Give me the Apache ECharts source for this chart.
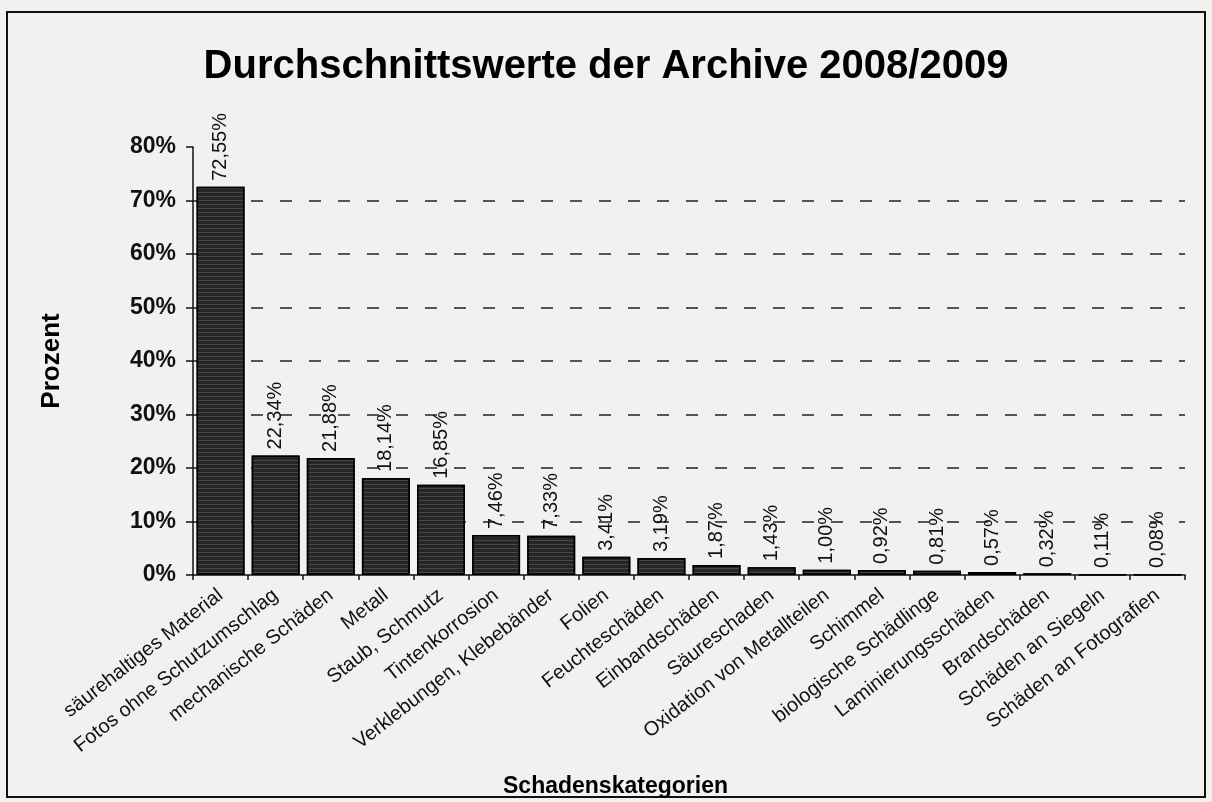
<!DOCTYPE html>
<html>
<head>
<meta charset="utf-8">
<title>Durchschnittswerte der Archive 2008/2009</title>
<script src="https://cdn.jsdelivr.net/npm/echarts@6/dist/echarts.min.js"></script>
<style>
  html, body { margin: 0; padding: 0; background: #f1f1ef; }
  #chart { width: 1212px; height: 802px; }
</style>
</head>
<body>
<div id="chart"></div>
<script>
// Schadenskategorien
const categories = [
  'säurehaltiges Material', 'Fotos ohne Schutzumschlag', 'mechanische Schäden',
  'Metall', 'Staub, Schmutz', 'Tintenkorrosion', 'Verklebungen, Klebebänder',
  'Folien', 'Feuchteschäden', 'Einbandschäden', 'Säureschaden',
  'Oxidation von Metallteilen', 'Schimmel', 'biologische Schädlinge',
  'Laminierungsschäden', 'Brandschäden', 'Schäden an Siegeln', 'Schäden an Fotografien'
]
// Prozent
const values = [72.55, 22.34, 21.88, 18.14, 16.85, 7.46, 7.33, 3.41, 3.19,
  1.87, 1.43, 1.00, 0.92, 0.81, 0.57, 0.32, 0.11, 0.08]
const yTicks = { min: 0, max: 80, interval: 10 }

const font = '"Liberation Sans", Arial, sans-serif'
const myChart = echarts.init(document.getElementById('chart'))

const chartOption = {
  backgroundColor: '#f1f1ef',
  animation: false,
  title: [
    {
      text: 'Durchschnittswerte der Archive 2008/2009',
      left: 'center',
      top: 42,
      textStyle: { fontFamily: font, fontSize: 40, fontWeight: 'bold', color: '#000' }
    },
    {
      // x-axis title sits left of the plot centre in the original
      text: 'Schadenskategorien',
      left: 498,
      top: 770,
      textStyle: { fontFamily: font, fontSize: 23, fontWeight: 'bold', color: '#000' }
    }
  ],
  graphic: [
    {
      type: 'rect',
      shape: { x: 7, y: 12, width: 1198, height: 785 },
      style: { fill: 'none', stroke: '#111', lineWidth: 2 },
      silent: true
    }
  ],
  grid: {
    left: 193,
    right: 27,
    top: 147,
    bottom: 227
  },
  xAxis: {
    type: 'category',
    data: categories,
    axisLine: { lineStyle: { color: '#111', width: 1.5 } },
    axisTick: { show: true, length: 5, lineStyle: { color: '#111', width: 1.5 } },
    axisLabel: {
      interval: 0,
      rotate: 38,
      margin: 18,
      fontFamily: font,
      fontSize: 20,
      color: '#111'
    }
  },
  yAxis: {
    type: 'value',
    min: yTicks.min,
    max: yTicks.max,
    interval: yTicks.interval,
    name: 'Prozent',
    nameLocation: 'middle',
    nameGap: 128,
    nameRotate: 90,
    nameTextStyle: { fontFamily: font, fontSize: 26, fontWeight: 'bold', color: '#000' },
    axisLine: { show: true, lineStyle: { color: '#111', width: 1.5 } },
    axisTick: { show: true, length: 7, lineStyle: { color: '#111', width: 1.5 } },
    axisLabel: {
      formatter: '{value}%',
      margin: 17,
      fontFamily: font,
      fontSize: 23,
      fontWeight: 'bold',
      color: '#111'
    },
    // no dashed line on 0% and 80%
    splitLine: {
      show: true,
      lineStyle: {
        type: [12, 17],
        width: 1.5,
        color: ['rgba(0,0,0,0)', '#222', '#222', '#222', '#222', '#222', '#222', '#222', 'rgba(0,0,0,0)']
      }
    }
  },
  series: [
    {
      type: 'bar',
      data: values,
      barCategoryGap: '13%',
      itemStyle: {
        color: '#262626',
        borderColor: '#000',
        borderWidth: 1.5,
        decal: {
          symbol: 'rect',
          dashArrayX: [1, 0],
          dashArrayY: [1, 3],
          color: 'rgba(110,110,110,0.45)'
        }
      },
      label: {
        show: true,
        position: 'top',
        rotate: 90,
        align: 'left',
        verticalAlign: 'middle',
        distance: 6,
        fontFamily: font,
        fontSize: 20,
        color: '#111',
        formatter: (p) => p.value.toFixed(2).replace('.', ',') + '%'
      }
    }
  ]
}

myChart.setOption(chartOption)
window.addEventListener('resize', myChart.resize)
</script>
</body>
</html>
